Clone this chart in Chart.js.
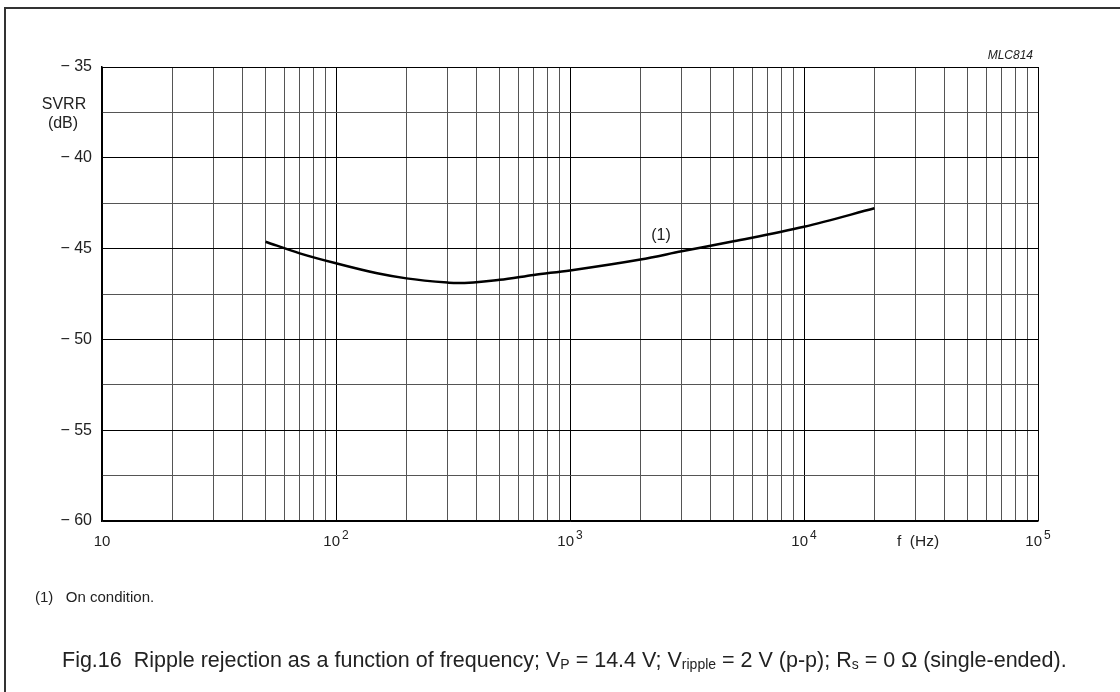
<!DOCTYPE html>
<html>
<head>
<meta charset="utf-8">
<title>SVRR vs frequency</title>
<script src="https://cdn.jsdelivr.net/npm/chart.js@4.4.1/dist/chart.umd.min.js"></script>
<style>
    body { margin: 0; background: #fff; }
    canvas { display: block; }
</style>
</head>
<body>
<canvas id="svrrChart" width="1120" height="692"></canvas>
<script>
// Data (frequency in Hz, SVRR in dB)
const freqs = [50, 70, 100, 150, 200, 300, 330, 500, 700, 1000, 2000, 3000, 5000, 10000, 20000];
const svrr = [-44.62, -45.26, -45.81, -46.36, -46.64, -46.87, -46.9, -46.72, -46.45, -46.2, -45.6, -45.15, -44.6, -43.8, -42.78];

// Axis ranges and labels
const xDecades = [10, 100, 1000, 10000, 100000];
const xExponents = ['', '2', '3', '4', '5'];
const yMin = -60;
const yMax = -35;

const FONT = 'Liberation Sans, Arial, Helvetica, sans-serif';

function isDecade(v) {
    const l = Math.log10(v);
    return Math.abs(l - Math.round(l)) < 1e-9;
}

// Draws frame, axis titles, x tick labels with exponents and captions
const textPlugin = {
    id: 'textPlugin',
    beforeDraw(chart) {
        const ctx = chart.ctx;
        ctx.save();
        ctx.strokeStyle = '#333';
        ctx.lineWidth = 2;
        ctx.beginPath();
        ctx.moveTo(5, 692);
        ctx.lineTo(5, 8);
        ctx.lineTo(1120, 8);
        ctx.stroke();
        ctx.restore();
    },
    afterDraw(chart) {
        const ctx = chart.ctx;
        const xScale = chart.scales.x;
        ctx.save();
        ctx.fillStyle = '#222';

        // x tick labels: 10, 10^2 ... 10^5
        const baseY = 546;
        xDecades.forEach((d, i) => {
            const px = xScale.getPixelForValue(d);
            ctx.font = '15px ' + FONT;
            const baseW = ctx.measureText('10').width;
            ctx.font = '12px ' + FONT;
            const expW = xExponents[i] ? ctx.measureText(xExponents[i]).width + 2 : 0;
            const start = px - (baseW + expW) / 2;
            ctx.textAlign = 'left';
            ctx.textBaseline = 'alphabetic';
            ctx.font = '15px ' + FONT;
            ctx.fillText('10', start, baseY);
            if (xExponents[i]) {
                ctx.font = '12px ' + FONT;
                ctx.fillText(xExponents[i], start + baseW + 2, baseY - 7);
            }
        });

        ctx.font = '15.5px ' + FONT;
        ctx.textAlign = 'center';
        ctx.fillText('f  (Hz)', 918, baseY);

        // y axis title
        ctx.textBaseline = 'middle';
        ctx.font = '16px ' + FONT;
        ctx.fillText('SVRR', 64, 105);
        ctx.fillText('(dB)', 63, 124);

        // curve label
        ctx.fillText('(1)', 661, 236);

        // drawing id
        ctx.font = 'italic 12px ' + FONT;
        ctx.textAlign = 'right';
        ctx.fillText('MLC814', 1033, 56);

        // footnote and caption
        ctx.textAlign = 'left';
        ctx.font = '15px ' + FONT;
        ctx.fillText('(1)   On condition.', 35, 598);

        let x = 62;
        const capY = 661;
        const parts = [
            ['Fig.16  Ripple rejection as a function of frequency; V', 21.5, 0],
            ['P', 14, 4],
            [' = 14.4 V; V', 21.5, 0],
            ['ripple', 14, 4],
            [' = 2 V (p-p); R', 21.5, 0],
            ['s', 14, 4],
            [' = 0 \u03A9 (single-ended).', 21.5, 0]
        ];
        parts.forEach(p => {
            ctx.font = p[1] + 'px ' + FONT;
            ctx.fillText(p[0], x, capY + p[2]);
            x += ctx.measureText(p[0]).width;
        });
        ctx.restore();
    }
};

const ctx = document.getElementById('svrrChart').getContext('2d');
new Chart(ctx, {
    type: 'line',
    data: {
        datasets: [{
            data: freqs.map((f, i) => ({ x: f, y: svrr[i] })),
            borderColor: '#000',
            borderWidth: 2.5,
            pointRadius: 0,
            cubicInterpolationMode: 'monotone',
            fill: false
        }]
    },
    options: {
        responsive: false,
        animation: false,
        layout: {
            padding: { left: 0, top: 67, right: 82, bottom: 131 }
        },
        plugins: {
            legend: { display: false },
            tooltip: { enabled: false }
        },
        scales: {
            x: {
                type: 'logarithmic',
                min: 10,
                max: 100000,
                afterBuildTicks: (scale) => {
                    const ticks = [];
                    for (let d = 10; d < 100000; d *= 10) {
                        for (let m = 1; m < 10; m++) ticks.push({ value: d * m });
                    }
                    ticks.push({ value: 100000 });
                    scale.ticks = ticks;
                },
                afterFit: (scale) => { scale.height = 40; },
                ticks: { display: false },
                grid: {
                    drawTicks: false,
                    color: (c) => (c.tick && isDecade(c.tick.value)) ? '#000' : '#555',
                    lineWidth: 1
                },
                border: { color: '#000', width: 1.5 }
            },
            y: {
                min: yMin,
                max: yMax,
                afterFit: (scale) => { scale.width = 102; },
                ticks: {
                    stepSize: 2.5,
                    padding: 10,
                    color: '#222',
                    font: { family: FONT, size: 16 },
                    callback: (v) => (v % 5 === 0) ? '\u2212 ' + Math.abs(v) : ''
                },
                grid: {
                    drawTicks: false,
                    color: (c) => (c.tick && c.tick.value % 5 === 0) ? '#000' : '#555',
                    lineWidth: 1
                },
                border: { color: '#000', width: 1.5 }
            }
        }
    },
    plugins: [textPlugin]
});
</script>
</body>
</html>
